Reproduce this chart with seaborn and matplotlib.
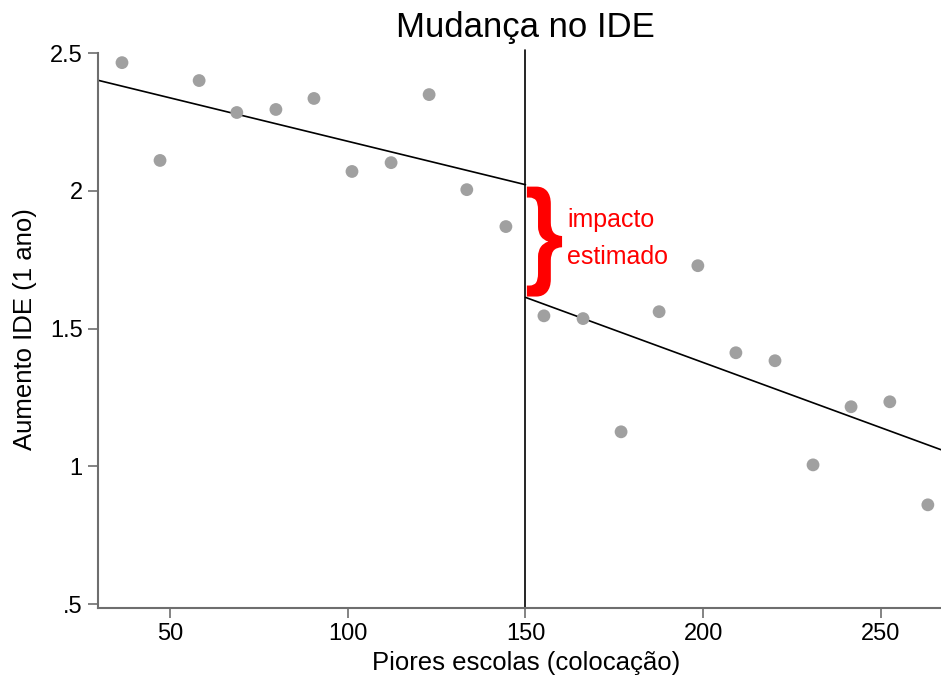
import numpy as np
import pandas as pd
import seaborn as sns
import matplotlib.pyplot as plt
from matplotlib.textpath import TextPath
from matplotlib.patches import PathPatch
from matplotlib.font_manager import FontProperties
from matplotlib.transforms import Affine2D

# binned means, schools ranked below / above the cutoff
rank_left = [36.5, 47.2, 58.2, 68.8, 79.8, 90.5, 101.2, 112.2, 122.9, 133.5, 144.5]
ide_left = [2.465, 2.110, 2.400, 2.284, 2.295, 2.335, 2.070, 2.102, 2.349, 2.004, 1.870]
rank_right = [155.2, 166.2, 176.9, 187.6, 198.5, 209.2, 220.2, 230.9, 241.6, 252.5, 263.2]
ide_right = [1.546, 1.536, 1.125, 1.561, 1.728, 1.412, 1.383, 1.005, 1.216, 1.234, 0.860]

# fitted lines on each side
fit_left_x = [29.75, 150]
fit_left_y = [2.401, 2.022]
fit_right_x = [150, 266.9]
fit_right_y = [1.613, 1.060]

cutoff = 150
xticks = [50, 100, 150, 200, 250]
yticks = [0.5, 1, 1.5, 2, 2.5]
ytick_labels = [".5", "1", "1.5", "2", "2.5"]

df = pd.DataFrame({"rank": rank_left + rank_right, "ide": ide_left + ide_right})

sns.set_style("ticks")
plt.rcParams['font.family'] = ['Liberation Sans', 'DejaVu Sans']
plt.rcParams['text.color'] = 'black'
plt.rcParams['axes.labelcolor'] = 'black'
plt.rcParams['xtick.labelcolor'] = 'black'
plt.rcParams['ytick.labelcolor'] = 'black'

fig = plt.figure(figsize=(9.41, 6.77), dpi=100)
ax = fig.add_axes([98/941, 1-608/677, (941-98)/941, (608-53)/677])

sns.scatterplot(data=df, x="rank", y="ide", color="#a0a0a0", s=85, edgecolor="none", ax=ax, zorder=3)
sns.lineplot(x=fit_left_x, y=fit_left_y, color="black", lw=1.2, ax=ax)
sns.lineplot(x=fit_right_x, y=fit_right_y, color="black", lw=1.2, ax=ax)
ax.axvline(cutoff, color="black", lw=1.2, ymin=0, ymax=1.005, clip_on=False)

ax.set_xlim(29.75, 266.9)
ax.set_ylim(0.4855, 2.5)
ax.set_xticks(xticks)
ax.set_yticks(yticks)
ax.set_yticklabels(ytick_labels)

for s in ["top", "right"]:
    ax.spines[s].set_visible(False)
for s in ["left", "bottom"]:
    ax.spines[s].set_color("#6e6e6e")
    ax.spines[s].set_linewidth(1.5)
ax.tick_params(length=7, width=1.2, color="#6e6e6e", labelsize=17, pad=4)

ax.set_xlabel("Piores escolas (colocação)", fontsize=18.5)
ax.xaxis.set_label_coords((526-98)/843, -0.099)
ax.xaxis.label.set_verticalalignment("center")
ax.set_ylabel("Aumento IDE (1 ano)", fontsize=18.5)
ax.yaxis.set_label_coords(-0.0866, 0.503)
ax.yaxis.label.set_verticalalignment("center")

fig.text(525/941, 1-28/677, "Mudança no IDE", fontsize=25, ha="center", va="center")

# brace marking the jump at the cutoff: a "}" glyph stretched to fit the gap
bx0, bx1, by0, by1 = 150.4, 160.3, 1.616, 2.015
tp = TextPath((0, 0), "}", size=1, prop=FontProperties(family="Liberation Sans", weight="bold"))
ext = tp.get_extents()
tr = (Affine2D().translate(-ext.x0, -ext.y0)
      .scale((bx1 - bx0) / ext.width, (by1 - by0) / ext.height)
      .translate(bx0, by0))
ax.add_patch(PathPatch(tr.transform_path(tp), facecolor="red", edgecolor="none", zorder=4))

ax.text(161.7, 1.895, "impacto", color="red", fontsize=18, ha="left", va="center")
ax.text(161.7, 1.761, "estimado", color="red", fontsize=18, ha="left", va="center")

fig.savefig("out.png", dpi=100)
